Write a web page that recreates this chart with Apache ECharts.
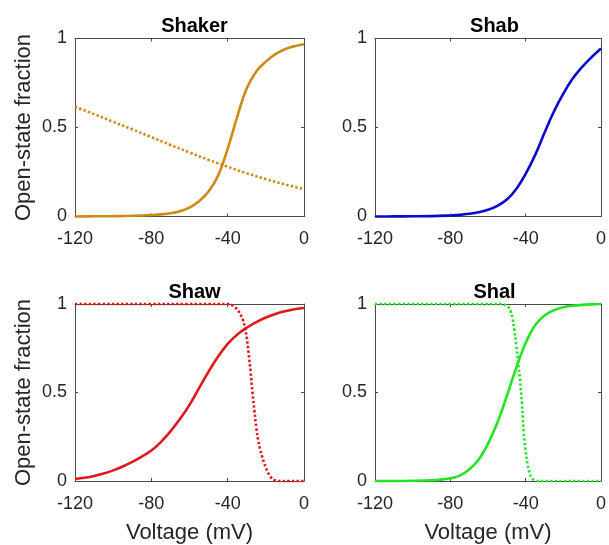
<!DOCTYPE html>
<html>
<head>
<meta charset="utf-8">
<script src="https://cdn.jsdelivr.net/npm/echarts@6/dist/echarts.min.js"></script>
<style>
  html, body { margin: 0; padding: 0; background: #fff; }
  #chart { width: 609px; height: 545px; }
</style>
</head>
<body>
<div id="chart"></div>
<script>
// Steady-state open fraction of the four Kv channel families vs. membrane voltage.
const panelTitles = ['Shaker', 'Shab', 'Shaw', 'Shal'];
const xTicks = [-120, -80, -40, 0];
const yTicks = [0, 0.5, 1];

// Shaker
const shakerActV = [-120, -110, -100, -90, -80, -75, -70, -65, -60, -55, -50, -45, -40, -35, -30, -25, -20, -15, -10, -5, 0];
const shakerActP = [0, 0.001, 0.002, 0.004, 0.008, 0.012, 0.018, 0.03, 0.05, 0.085, 0.14, 0.23, 0.38, 0.56, 0.72, 0.815, 0.87, 0.912, 0.94, 0.957, 0.968];
const shakerInactV = [-120, -110, -100, -90, -80, -70, -60, -50, -40, -30, -20, -10, 0];
const shakerInactP = [0.617, 0.575, 0.532, 0.49, 0.446, 0.402, 0.36, 0.318, 0.28, 0.243, 0.21, 0.18, 0.153];

// Shab
const shabActV = [-120, -110, -100, -90, -80, -75, -70, -65, -60, -55, -50, -45, -40, -35, -30, -25, -20, -15, -10, -5, 0];
const shabActP = [0, 0.0005, 0.001, 0.002, 0.006, 0.009, 0.015, 0.024, 0.038, 0.06, 0.095, 0.155, 0.24, 0.345, 0.47, 0.59, 0.69, 0.775, 0.84, 0.895, 0.944];

// Shaw
const shawActV = [-120, -115, -110, -105, -100, -95, -90, -85, -80, -75, -70, -65, -60, -55, -50, -45, -40, -35, -30, -25, -20, -15, -10, -5, 0];
const shawActP = [0.011, 0.018, 0.028, 0.042, 0.06, 0.082, 0.108, 0.138, 0.172, 0.22, 0.28, 0.35, 0.43, 0.525, 0.618, 0.703, 0.775, 0.827, 0.866, 0.898, 0.924, 0.944, 0.959, 0.97, 0.977];
const shawInactV = [-120, -100, -80, -60, -50, -44, -40, -38, -36, -34, -33, -32, -31, -30, -29, -28, -27, -26, -25, -24, -23, -22, -21, -20, -19, -18, -17, -16, -15, -14, -12, -8, -4, 0];
const shawInactP = [1, 1, 1, 1, 1, 1, 1, 0.995, 0.98, 0.955, 0.935, 0.91, 0.87, 0.81, 0.72, 0.62, 0.5, 0.4, 0.3, 0.23, 0.18, 0.14, 0.105, 0.075, 0.05, 0.03, 0.017, 0.008, 0.003, 0, 0, 0, 0, 0];

// Shal
const shalActV = [-120, -110, -100, -90, -85, -80, -75, -70, -65, -60, -55, -50, -45, -40, -35, -30, -25, -20, -15, -10, -5, 0];
const shalActP = [0, 0, 0.001, 0.004, 0.008, 0.015, 0.03, 0.065, 0.12, 0.21, 0.33, 0.48, 0.64, 0.78, 0.88, 0.935, 0.965, 0.982, 0.99, 0.995, 0.998, 1];
const shalInactV = [-120, -100, -80, -70, -62, -57, -54, -52, -50, -49, -48, -47, -46, -45, -44, -43, -42, -41, -40, -39, -38, -37, -36, -35, -33, -30, -25, -20, -10, 0];
const shalInactP = [1, 1, 1, 1, 1, 1, 1, 0.998, 0.99, 0.98, 0.96, 0.92, 0.85, 0.77, 0.67, 0.57, 0.44, 0.27, 0.17, 0.095, 0.05, 0.02, 0.008, 0.003, 0, 0, 0, 0, 0, 0];

const pairs = (v, p) => v.map((x, i) => [x, p[i]]);

const FONT = 'Liberation Sans, Arial, Helvetica, sans-serif';
const AXIS_COLOR = '#4a4a4a';
const TEXT_COLOR = '#262626';

const grids = [
  { left: 75, top: 38.5, width: 229, height: 178 },
  { left: 375, top: 38.5, width: 229, height: 178 },
  { left: 75, top: 304, width: 229, height: 178 },
  { left: 375, top: 304, width: 229, height: 178 }
];

const xAxes = [];
const yAxes = [];
grids.forEach((g, i) => {
  const bottomRow = i >= 2;
  const leftCol = i % 2 === 0;
  ['bottom', 'top'].forEach(pos => {
    xAxes.push({
      type: 'value', gridIndex: i, position: pos,
      min: xTicks[0], max: xTicks[xTicks.length - 1], interval: 40,
      axisLine: { show: true, onZero: false, lineStyle: { color: AXIS_COLOR, width: 1 } },
      axisTick: { show: true, inside: true, length: 3, lineStyle: { color: AXIS_COLOR } },
      splitLine: { show: false },
      axisLabel: pos === 'bottom'
        ? { show: true, margin: 14, fontFamily: FONT, fontSize: 18, color: TEXT_COLOR }
        : { show: false },
      name: (pos === 'bottom' && bottomRow) ? 'Voltage (mV)' : '',
      nameLocation: 'middle', nameGap: 41,
      nameTextStyle: { fontFamily: FONT, fontSize: 22, color: TEXT_COLOR }
    });
  });
  ['left', 'right'].forEach(pos => {
    yAxes.push({
      type: 'value', gridIndex: i, position: pos,
      min: yTicks[0], max: yTicks[yTicks.length - 1], interval: 0.5,
      axisLine: { show: true, onZero: false, lineStyle: { color: AXIS_COLOR, width: 1 } },
      axisTick: { show: true, inside: true, length: 3, lineStyle: { color: AXIS_COLOR } },
      splitLine: { show: false },
      axisLabel: pos === 'left'
        ? { show: true, margin: 8, fontFamily: FONT, fontSize: 18, color: TEXT_COLOR }
        : { show: false },
      name: (pos === 'left' && leftCol) ? 'Open-state fraction' : '',
      nameLocation: 'middle', nameGap: 40, nameRotate: 90,
      nameTextStyle: { fontFamily: FONT, fontSize: 22, color: TEXT_COLOR }
    });
  });
});

function curve(panel, v, p, color, dotted) {
  return {
    type: 'line',
    xAxisIndex: panel * 2,
    yAxisIndex: panel * 2,
    data: pairs(v, p),
    showSymbol: false,
    smooth: 0.4,
    clip: false,
    animation: false,
    lineStyle: dotted
      ? { color: color, width: 2.6, type: [2.4, 2.2], cap: 'butt' }
      : { color: color, width: 2.6 }
  };
}

const GOLD = '#CC8B14';
const BLUE = '#0A0ACC';
const RED = '#E01818';
const GREEN = '#24E424';

const option = {
  backgroundColor: '#ffffff',
  animation: false,
  title: grids.map((g, i) => ({
    text: panelTitles[i],
    left: g.left + g.width / 2,
    top: g.top - 27,
    textAlign: 'center',
    textStyle: { fontFamily: FONT, fontSize: 20, fontWeight: 'bold', color: '#000' }
  })),
  grid: grids.map(g => Object.assign({ show: false, containLabel: false }, g)),
  xAxis: xAxes,
  yAxis: yAxes,
  series: [
    curve(0, shakerInactV, shakerInactP, GOLD, true),
    curve(0, shakerActV, shakerActP, GOLD, false),
    curve(1, shabActV, shabActP, BLUE, false),
    curve(2, shawInactV, shawInactP, RED, true),
    curve(2, shawActV, shawActP, RED, false),
    curve(3, shalInactV, shalInactP, GREEN, true),
    curve(3, shalActV, shalActP, GREEN, false)
  ]
};

const chart = echarts.init(document.getElementById('chart'), null, { renderer: 'canvas' });
chart.setOption(option);
</script>
</body>
</html>
